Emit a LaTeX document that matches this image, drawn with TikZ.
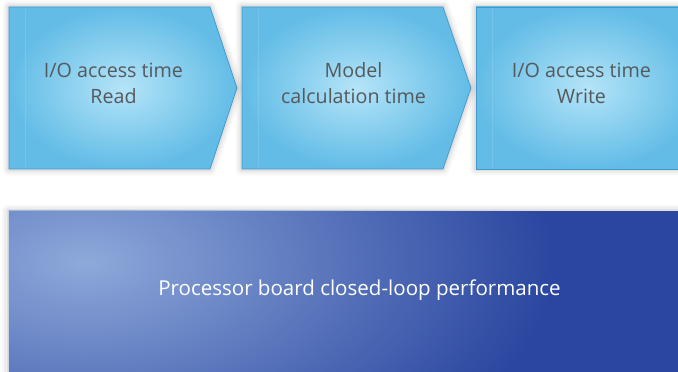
\documentclass[tikz,border=0pt]{standalone}
\usepackage{fontspec}
\setmainfont{Open Sans}
\usetikzlibrary{fadings}

\definecolor{stepedge}{HTML}{62BCE6}
\definecolor{stepcore}{HTML}{B4E4F8}
\definecolor{stepline}{HTML}{4399CB}
\definecolor{steptext}{HTML}{55595C}
\definecolor{boarddark}{HTML}{2A46A0}
\definecolor{boardglow}{HTML}{8EA9DA}

\tikzfading[name=glowfade, inner color=transparent!0, outer color=transparent!100]

\begin{document}
\begin{tikzpicture}[x=0.025cm, y=-0.025cm,
    softshadow/.style={
      preaction={draw=black, draw opacity=0.03, line width=9pt, line join=round},
      preaction={draw=black, draw opacity=0.04, line width=6pt, line join=round},
      preaction={draw=black, draw opacity=0.05, line width=3pt, line join=round}},
    stepshape/.style={softshadow, inner color=stepcore, outer color=stepedge, draw=stepline, line width=0.5pt},
    bevel/.style={white, opacity=0.12, line width=0.6pt},
    steplabel/.style={text=steptext, align=center, font=\fontsize{14pt}{18.4pt}\selectfont},
    boardlabel/.style={text=white, font=\fontsize{14.6pt}{18pt}\selectfont}]
    % White page
    \fill[white] (0,0) rectangle (678,372);
    \useasboundingbox (0,0) rectangle (678,372);
    \clip (0,0) rectangle (678,372);

    % Draw the three step boxes
    \shade[stepshape] (9,7) -- (210,7) -- (237,88) -- (210,169) -- (9,169) -- cycle;
    \shade[stepshape] (242,7) -- (443,7) -- (471,88) -- (443,169) -- (242,169) -- cycle;
    \shade[stepshape] (476,7) -- (700,7) -- (700,169) -- (476,169) -- cycle;

    % Faint bevel lines
    \draw[bevel] (25,9) -- (25,167);
    \draw[bevel] (258,9) -- (258,167);
    \draw[bevel] (492,9) -- (492,167);

    % Step labels
    \node[steplabel] (read) at (113.5,83.5) {I/O access time\\Read};
    \node[steplabel] (model) at (353.5,83.5) {Model\\calculation time};
    \node[steplabel] (write) at (581.5,83.5) {I/O access time\\Write};

    % Draw the processor board
    \fill[boarddark, softshadow] (8.7,211) rectangle (700,400);
    \begin{scope}
        \clip (8.7,211) rectangle (700,400);
        \fill[boardglow, path fading=glowfade] (85,262) ellipse [x radius=470, y radius=250];
    \end{scope}
    \node[boardlabel] (perf) at (359.5,290) {Processor board closed-loop performance};
\end{tikzpicture}
\end{document}
